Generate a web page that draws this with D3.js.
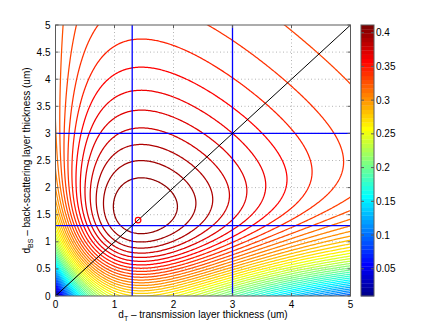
<!DOCTYPE html>
<html>
<head>
<meta charset="utf-8">
<script src="https://cdn.jsdelivr.net/npm/d3@7"></script>
<style>
  html, body { margin: 0; padding: 0; background: #fff; }
  svg { display: block; font-family: "Liberation Sans", Arial, Helvetica, sans-serif; }
</style>
</head>
<body>
<div id="chart"></div>
<script>
// axis ticks and grid
const X_TICKS = [0, 1, 2, 3, 4, 5];
const Y_TICKS = [0, 0.5, 1, 1.5, 2, 2.5, 3, 3.5, 4, 4.5, 5];
const CBAR_TICKS = [0.05, 0.1, 0.15, 0.2, 0.25, 0.3, 0.35, 0.4];
const C_LIMITS = [0.0096, 0.4114];
const N_LEVELS = 50;

// guide lines and optimum marker
const GUIDES_T = [1.3, 3];
const GUIDES_BS = [1.3, 3];
const DIAGONAL = [[0, 0], [5, 5]];
const OPTIMUM = [1.4, 1.4];

// two-layer model (thicknesses in um)
const SIGMA = 0.467;   // attenuation through the back-scattering layer, 1/um
const T_AMP = 1.23;    // transmission layer: amplitude
const T_RISE = 2.4;    //   build-up length
const T_DECAY = 0.5;   //   decay rate, 1/um
const B_INF = 0.319;   // back-scattering layer: saturated value
const B_LEN = 1.127;   //   build-up length

const W = 425, H = 333;
const plot = { left: 55.5, right: 350.5, top: 25, bottom: 296 };
const cbar = { left: 361, right: 374 };

function transmission(d) {
    return T_AMP * (1 - Math.exp(-d / T_RISE)) * Math.exp(-T_DECAY * d);
}
function backscatter(d) {
    return B_INF * Math.tanh(d / B_LEN);
}
function efficiency(dT, dBS) {
    return backscatter(dBS) + Math.exp(-SIGMA * dBS) * transmission(dT);
}

// MATLAB style jet colormap
function jet(m) {
    const n = Math.ceil(m / 4);
    const u = [];
    for (let i = 1; i <= n; i++) u.push(i / n);
    for (let i = 1; i < n; i++) u.push(1);
    for (let i = n; i >= 1; i--) u.push(i / n);
    const g0 = Math.ceil(n / 2) - (m % 4 === 1 ? 1 : 0);
    const J = d3.range(m).map(() => [0, 0, 0]);
    u.forEach((v, k) => {
        const g = g0 + k + 1, r = g + n, b = g - n;
        if (g >= 1 && g <= m) J[g - 1][1] = v;
        if (r >= 1 && r <= m) J[r - 1][0] = v;
        if (b >= 1 && b <= m) J[b - 1][2] = v;
    });
    return J.map(c => d3.rgb(c[0] * 255, c[1] * 255, c[2] * 255).formatHex());
}
const JET = jet(64);
function colorOf(v) {
    const t = (v - C_LIMITS[0]) / (C_LIMITS[1] - C_LIMITS[0]);
    return JET[Math.max(0, Math.min(63, Math.floor(t * 64)))];
}

const x = d3.scaleLinear().domain([0, 5]).range([plot.left, plot.right]);
const y = d3.scaleLinear().domain([0, 5]).range([plot.bottom, plot.top]);
const yc = d3.scaleLinear().domain(C_LIMITS).range([plot.bottom, plot.top]);

const svg = d3.select("#chart").append("svg")
    .attr("width", W).attr("height", H)
    .attr("viewBox", `0 0 ${W} ${H}`);

svg.append("defs").append("clipPath").attr("id", "clip")
    .append("rect")
    .attr("x", plot.left).attr("y", plot.top)
    .attr("width", plot.right - plot.left).attr("height", plot.bottom - plot.top);

// dotted grid
const grid = svg.append("g").attr("stroke", "#b4b4b4").attr("stroke-dasharray", "1,2.5").attr("stroke-width", 1);
X_TICKS.slice(1, -1).forEach(t => grid.append("line")
    .attr("x1", x(t)).attr("x2", x(t)).attr("y1", plot.top).attr("y2", plot.bottom));
Y_TICKS.slice(1, -1).forEach(t => grid.append("line")
    .attr("x1", plot.left).attr("x2", plot.right).attr("y1", y(t)).attr("y2", y(t)));

// contour field, grid extended beyond the axes so the polygon borders fall outside the clip
const STEP = 0.02, PAD = 3;
const n = Math.round(5 / STEP) + 1 + 2 * PAD;
const origin = -PAD * STEP;
const values = new Float64Array(n * n);
for (let j = 0; j < n; j++)
    for (let i = 0; i < n; i++)
        values[i + j * n] = efficiency(origin + i * STEP, origin + j * STEP);

const levels = d3.range(1, N_LEVELS + 1)
    .map(k => C_LIMITS[0] + k * (C_LIMITS[1] - C_LIMITS[0]) / (N_LEVELS + 1));

const contours = d3.contours().size([n, n]).thresholds(levels)(values);
const toScreen = d3.geoTransform({
    point(px, py) {
        this.stream.point(x(origin + (px - 0.5) * STEP), y(origin + (py - 0.5) * STEP));
    }
});
const path = d3.geoPath(toScreen);

svg.append("g").attr("clip-path", "url(#clip)")
    .selectAll("path")
    .data(contours)
    .join("path")
    .attr("d", path)
    .attr("fill", "none")
    .attr("stroke", d => colorOf(d.value))
    .attr("stroke-width", 1.25)
    .attr("stroke-linejoin", "round");

// guides
const guides = svg.append("g").attr("clip-path", "url(#clip)");
GUIDES_T.forEach(t => guides.append("line")
    .attr("x1", x(t)).attr("x2", x(t)).attr("y1", plot.top).attr("y2", plot.bottom)
    .attr("stroke", "#0000ff").attr("stroke-width", 1.3));
GUIDES_BS.forEach(t => guides.append("line")
    .attr("x1", plot.left).attr("x2", plot.right).attr("y1", y(t)).attr("y2", y(t))
    .attr("stroke", "#0000ff").attr("stroke-width", 1.3));
guides.append("path")
    .attr("d", d3.line().x(d => x(d[0])).y(d => y(d[1]))(DIAGONAL))
    .attr("stroke", "#000").attr("stroke-width", 1).attr("fill", "none");
guides.append("circle")
    .attr("cx", x(OPTIMUM[0])).attr("cy", y(OPTIMUM[1])).attr("r", 2.8)
    .attr("fill", "none").attr("stroke", "#ff0000").attr("stroke-width", 1.2);

// axes box with inward ticks
const AX = "#5a5a5a", TICK = 3;
const axes = svg.append("g").attr("stroke", AX).attr("stroke-width", 1).attr("fill", "none");
axes.append("rect")
    .attr("x", plot.left).attr("y", plot.top)
    .attr("width", plot.right - plot.left).attr("height", plot.bottom - plot.top);
X_TICKS.forEach(t => {
    axes.append("line").attr("x1", x(t)).attr("x2", x(t)).attr("y1", plot.bottom).attr("y2", plot.bottom - TICK);
    axes.append("line").attr("x1", x(t)).attr("x2", x(t)).attr("y1", plot.top).attr("y2", plot.top + TICK);
});
Y_TICKS.forEach(t => {
    axes.append("line").attr("x1", plot.left).attr("x2", plot.left + TICK).attr("y1", y(t)).attr("y2", y(t));
    axes.append("line").attr("x1", plot.right).attr("x2", plot.right - TICK).attr("y1", y(t)).attr("y2", y(t));
});

const labels = svg.append("g").attr("font-size", 10).attr("fill", "#000");
labels.selectAll(".xt").data(X_TICKS).join("text")
    .attr("x", d => x(d)).attr("y", plot.bottom + 11.5)
    .attr("text-anchor", "middle").text(d => d);
labels.selectAll(".yt").data(Y_TICKS).join("text")
    .attr("x", plot.left - 5).attr("y", d => y(d) + 3.5)
    .attr("text-anchor", "end").text(d => d);

const xl = labels.append("text")
    .attr("x", (plot.left + plot.right) / 2).attr("y", 318)
    .attr("text-anchor", "middle");
xl.append("tspan").text("d");
xl.append("tspan").attr("font-size", 7).attr("dy", 2.5).text("T");
xl.append("tspan").attr("dy", -2.5).text(" \u2013 transmission layer thickness (um)");

const yl = labels.append("text")
    .attr("transform", `translate(30,${(plot.top + plot.bottom) / 2}) rotate(-90)`)
    .attr("text-anchor", "middle");
yl.append("tspan").text("d");
yl.append("tspan").attr("font-size", 7).attr("dy", 2.5).text("BS");
yl.append("tspan").attr("dy", -2.5).text(" \u2013 back-scattering layer thickness (um)");

// colorbar
const cb = svg.append("g");
const band = (yc.range()[0] - yc.range()[1]) / JET.length;
cb.selectAll("rect").data(JET).join("rect")
    .attr("x", cbar.left).attr("width", cbar.right - cbar.left)
    .attr("y", (d, i) => plot.bottom - (i + 1) * band).attr("height", band + 0.3)
    .attr("fill", d => d);
cb.append("rect")
    .attr("x", cbar.left).attr("y", plot.top)
    .attr("width", cbar.right - cbar.left).attr("height", plot.bottom - plot.top)
    .attr("fill", "none").attr("stroke", AX);
CBAR_TICKS.forEach(t => {
    cb.append("line").attr("x1", cbar.right).attr("x2", cbar.right - TICK)
        .attr("y1", yc(t)).attr("y2", yc(t)).attr("stroke", AX);
    cb.append("line").attr("x1", cbar.left).attr("x2", cbar.left + TICK)
        .attr("y1", yc(t)).attr("y2", yc(t)).attr("stroke", AX);
});
cb.selectAll("text").data(CBAR_TICKS).join("text")
    .attr("x", cbar.right + 2).attr("y", d => yc(d) + 3.5)
    .attr("font-size", 10).text(d => d);
</script>
</body>
</html>
